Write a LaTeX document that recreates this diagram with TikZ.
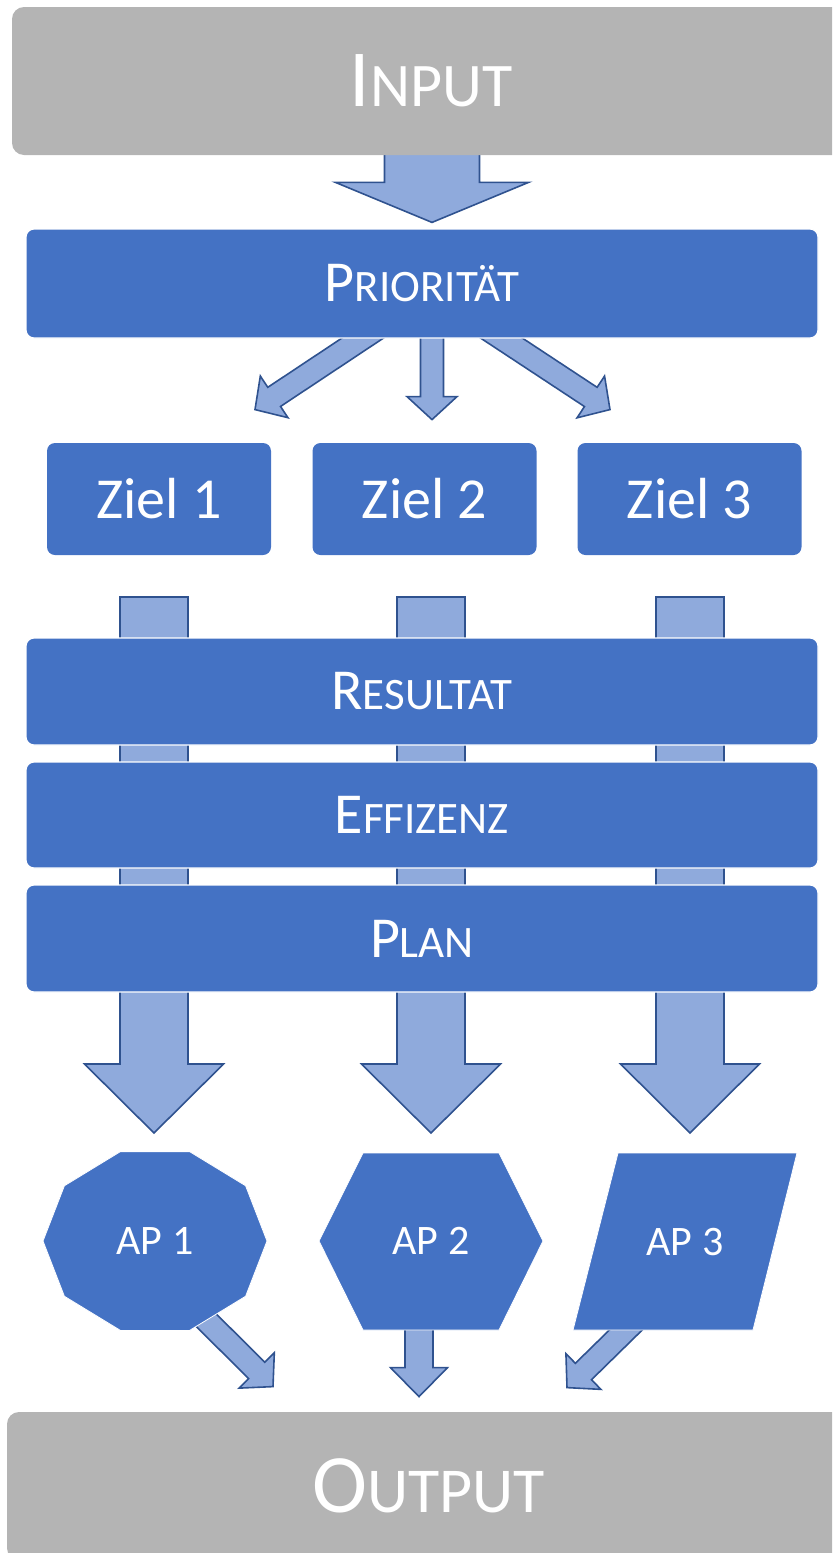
\documentclass[tikz,border=0pt]{standalone}
\usepackage{fontspec}
\setmainfont{Carlito}
\usetikzlibrary{calc}

\definecolor{blau}{HTML}{4472C4}
\definecolor{hellblau}{HTML}{8FAADC}
\definecolor{randblau}{HTML}{2F528F}
\definecolor{grau}{HTML}{B4B4B4}

\pgfdeclarelayer{hinten}
\pgfsetlayers{hinten,main}

\tikzset{
  kasten/.style = {fill=grau, rounded corners=6pt, text=white, inner sep=0pt, minimum height=74pt},
  balken/.style = {fill=blau, draw=white, line width=0.6pt, rounded corners=4pt, inner sep=0pt,
                   minimum width=396pt, text=white, font=\fontsize{29pt}{32pt}\selectfont},
  ziel/.style = {fill=blau, rounded corners=4pt, inner sep=0pt, minimum width=112pt, minimum height=56pt,
                 text=white, font=\fontsize{29pt}{32pt}\selectfont},
  apform/.style = {fill=blau, draw=white, line width=0.4pt},
  aptext/.style = {text=white, inner sep=0pt, font=\fontsize{21pt}{24pt}\selectfont},
  pfeilstil/.style = {fill=hellblau, draw=randblau, line width=0.8pt, line join=miter}
}

% Kapitaelchen von Hand
\newcommand{\kl}[2]{{\fontsize{#1}{#1}\selectfont #2}}
% Blockpfeil: Start, Spitze, halbe Schaftbreite, halbe Kopfbreite, Kopflaenge
\newcommand{\pfeil}[5]{%
  \coordinate (pA) at (#1);
  \coordinate (pB) at (#2);
  \coordinate (pC) at ($(pB)!#5!(pA)$);
  \filldraw[pfeilstil] ($(pA)!#3!90:(pB)$) -- ($(pC)!#3!-90:(pA)$) -- ($(pC)!#4!-90:(pA)$) -- (pB)
    -- ($(pC)!#4!90:(pA)$) -- ($(pC)!#3!90:(pA)$) -- ($(pA)!#3!-90:(pB)$) -- cycle;
}

\begin{document}
\begin{tikzpicture}[x=0.5pt, y=-0.5pt]
\useasboundingbox (0,0) rectangle (832,1553);
\clip (0,0) rectangle (832,1553);

% Kaesten und Balken
\node[kasten, minimum width=419pt, font=\fontsize{40.5pt}{44pt}\selectfont] (input) at (431,81) {I\kl{31pt}{NPUT}};
\node[balken, minimum height=54.5pt] (prio) at (422,283.5) {P\kl{22.5pt}{RIORITÄT}};
\foreach \i/\x in {1/159, 2/424.5, 3/689.5}
  \node[ziel] (ziel\i) at (\x,499) {Ziel \i};
\node[balken, minimum height=53.5pt] (res) at (422,691.5) {R\kl{22.5pt}{ESULTAT}};
\node[balken, minimum height=53pt] (eff) at (422,815) {E\kl{22.5pt}{FFIZENZ}};
\node[balken, minimum height=53.5pt] (plan) at (422,938.5) {P\kl{22.5pt}{LAN}};
\node[kasten, minimum width=421.5pt, font=\fontsize{41.5pt}{44pt}\selectfont] (output) at (428.5,1486) {O\kl{32pt}{UTPUT}};

% Arbeitspakete
\coordinate (m1) at (155,1241);
\coordinate (m2) at (431,1241);
\coordinate (m3) at (685,1241.5);
\fill[apform] ($(m1)+(0:112 and 94)$) \foreach \k in {1,...,9} {-- ($(m1)+(\k*36:112 and 94)$)} -- cycle; % Zehneck
\fill[apform] (m2) ++(-68,-88) -- ++(136,0) -- ++(44,88) -- ++(-44,89) -- ++(-136,0) -- ++(-44,-89) -- cycle;
\fill[apform] (m3) ++(-67,-88.5) -- ++(179,0) -- ++(-44,177) -- ++(-180,0) -- cycle;
\foreach \i in {1,2,3}
  \node[aptext] (ap\i) at (m\i) {AP \i};

\begin{pgfonlayer}{hinten}
\pfeil{$(input.south)+(1,-5)$}{$(prio.north)+(10,-6)$}{23.75pt}{48.25pt}{20pt}
% Prioritaet -> Ziele
\pfeil{$(prio.south)+(-36,-16)$}{$(ziel1.north)+(96,-33)$}{5.75pt}{12.5pt}{11.5pt}
\pfeil{$(prio.south)+(10,-16)$}{$(ziel2.north)+(7.5,-23)$}{5.75pt}{12.5pt}{11.5pt}
\pfeil{$(prio.south)+(56,-16)$}{$(ziel3.north)+(-79.5,-33)$}{5.75pt}{12.5pt}{11.5pt}
% lange Pfeile hinter den Balken
\foreach \x in {154,431,690} {\pfeil{\x,597}{\x,1133}{17pt}{34.75pt}{34.5pt}}
% AP -> Output
\pfeil{$(m1)+(45,73)$}{$(output.north)+(-155.5,-25)$}{5.75pt}{12.5pt}{11.5pt}
\pfeil{$(m2)+(-12,79)$}{$(output.north)+(-9.5,-15)$}{7pt}{14.25pt}{14.5pt}
\pfeil{$(m3)+(-48,77.5)$}{$(output.north)+(138.5,-24)$}{5.75pt}{12.5pt}{11.5pt}
\end{pgfonlayer}
\end{tikzpicture}
\end{document}
